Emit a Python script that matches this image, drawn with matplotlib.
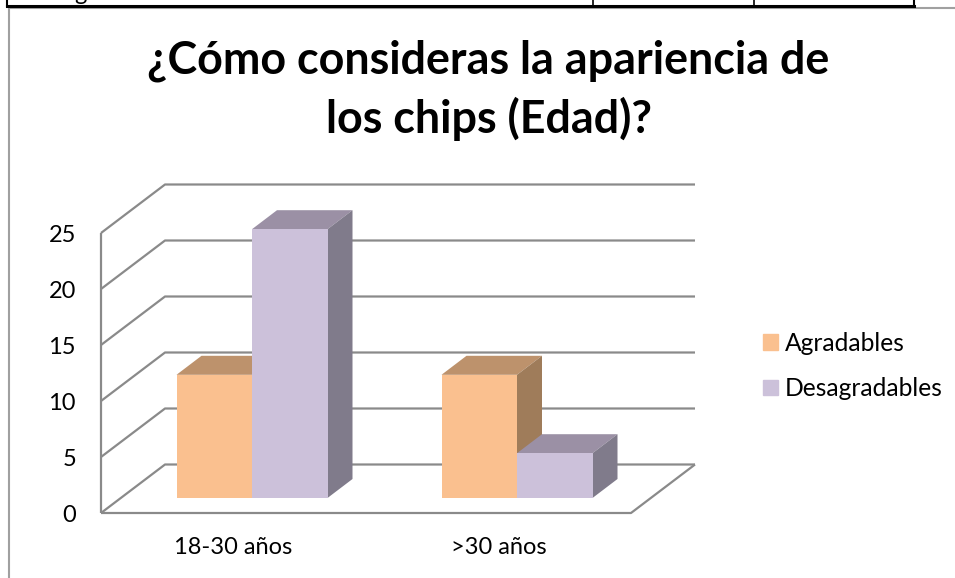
import matplotlib
matplotlib.use('Agg')
import matplotlib.pyplot as plt
from matplotlib.lines import Line2D
from matplotlib.patches import Patch, Polygon

plt.rcParams['font.family'] = ['Lato', 'DejaVu Sans']

# Datos
categories = ['18-30 años', '>30 años']
agradables = [11, 11]
desagradables = [24, 4]
yticks = [0, 5, 10, 15, 20, 25]
title = '¿Cómo consideras la apariencia de\nlos chips (Edad)?'

W, H = 955, 578
grid_c = '#8a8a8a'

fig = plt.figure(figsize=(W / 100, H / 100), dpi=100)
fig.patch.set_facecolor('white')

# area frontal del grafico en pixeles
x0, x1 = 101, 631
y_top, y_bot = 233, 513
ax = fig.add_axes([x0 / W, 1 - y_bot / H, (x1 - x0) / W, (y_bot - y_top) / H])
ax.set_xlim(-0.5, 1.5)
ax.set_ylim(0, 25)
ax.patch.set_visible(False)
for s in ax.spines.values():
    s.set_visible(False)

# profundidad 3D en unidades de datos
px_x = 2 / (x1 - x0)
px_y = 25 / (y_bot - y_top)
wall_dx, wall_dy = 64 * px_x, 48.5 * px_y
bar_dx, bar_dy = 25 * px_x, 19 * px_y
off_x, off_y = 18.5 * px_x, 15 * px_y
bar_w = 75.5 * px_x


def line(xs, ys, lw=1.6):
    ax.plot(xs, ys, color=grid_c, lw=lw, clip_on=False, zorder=1, solid_capstyle='butt')


# paredes y rejilla
for t in yticks:
    line([-0.5, -0.5 + wall_dx, 1.5 + wall_dx], [t, t + wall_dy, t + wall_dy])
line([-0.5, -0.5], [0, 25])
line([-0.5, 1.5, 1.5 + wall_dx], [0, 0, wall_dy])


def bar3d(left, value, front, top, side, z):
    bottom = off_y
    ax.bar(left, value, bar_w, bottom=bottom, align='edge', color=front, zorder=z + 0.2, clip_on=False)
    r = left + bar_w
    h = bottom + value
    ax.add_patch(Polygon([(left, h), (r, h), (r + bar_dx, h + bar_dy), (left + bar_dx, h + bar_dy)],
                         closed=True, fc=top, ec='none', clip_on=False, zorder=z))
    ax.add_patch(Polygon([(r, bottom), (r + bar_dx, bottom + bar_dy), (r + bar_dx, h + bar_dy), (r, h)],
                         closed=True, fc=side, ec='none', clip_on=False, zorder=z))


for i in range(len(categories)):
    c = i + off_x
    bar3d(c - bar_w, agradables[i], '#FAC08F', '#BD926C', '#9F7C5A', 2 + i)
    bar3d(c, desagradables[i], '#CCC1DA', '#9B90A5', '#807B8B', 2.5 + i)

ax.set_xticks(range(len(categories)))
ax.set_xticklabels(categories, fontsize=17, color='black')
ax.set_yticks(yticks)
ax.tick_params(axis='both', length=0, labelsize=17, colors='black')
ax.tick_params(axis='y', pad=18)
ax.tick_params(axis='x', pad=17)

fig.text(488.5 / W, 1 - 90 / H, title, ha='center', va='center', fontsize=32.3, fontweight='bold',
         linespacing=1.42, color='black')

handles = [Patch(color='#FAC08F', label='Agradables'), Patch(color='#CCC1DA', label='Desagradables')]
fig.legend(handles=handles, loc='center left', bbox_to_anchor=(763 / W, 1 - 366 / H), frameon=False,
           fontsize=17.7, handlelength=0.6, handleheight=0.6, handletextpad=0.3, labelspacing=0.9,
           borderpad=0, borderaxespad=0)

# tabla de arriba y marco
for xs, ys, c, lw in [
    ([8.5, 955], [7.5, 7.5], '#a0a0a0', 1.5),
    ([8.5, 8.5], [7.5, 578], '#a0a0a0', 1.5),
    ([7, 914], [5.5, 5.5], 'black', 2.2),
    ([7, 7], [0, 5.5], 'black', 1.5),
    ([593, 593], [0, 5.5], 'black', 1.2),
    ([754, 754], [0, 5.5], 'black', 1.2),
    ([914, 914], [0, 5.5], 'black', 1.5),
]:
    fig.add_artist(Line2D([v / W for v in xs], [1 - v / H for v in ys], color=c, lw=lw))
fig.text(80 / W, 1.0, 'g', ha='center', va='baseline', fontsize=17, color='black')

fig.savefig('out.png', dpi=100)
